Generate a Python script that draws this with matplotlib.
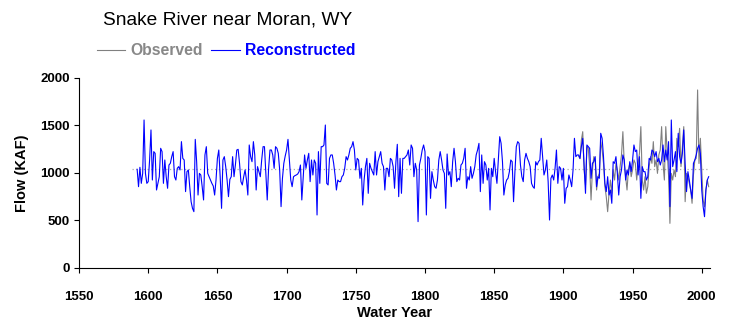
import numpy as np
import matplotlib
matplotlib.use("Agg")
import matplotlib.pyplot as plt

plt.rcParams["font.family"] = ["Liberation Sans", "DejaVu Sans"]

# Reconstructed annual flow (KAF), water years 1592-2005
recon_start = 1592
reconstructed = [
    1039, 856, 1060, 891, 996, 1558, 996, 891,
    909, 1137, 1453, 926, 1225, 1207, 821, 891, 961, 1260,
    1225, 891, 1137, 961, 839, 1084, 1102, 1172, 1225, 961,
    926, 1049, 1067, 1032, 1330, 1154, 1137, 804, 1014, 1032,
    856, 698, 628, 593, 1354, 1119, 768, 996, 979, 856,
    716, 1190, 1277, 996, 961, 926, 891, 863, 768, 926,
    1154, 1242, 961, 628, 1137, 1172, 1067, 926, 751, 933,
    961, 1172, 961, 1084, 1242, 1249, 1102, 909, 874, 961,
    1032, 926, 768, 1295, 1172, 1119, 1330, 1190, 821, 1067,
    1014, 961, 1137, 1277, 1277, 996, 716, 1049, 1242, 1242,
    1190, 1049, 1277, 1260, 1207, 1032, 646, 944, 1102, 1179,
    1242, 1354, 1137, 926, 856, 961, 972, 979, 989, 1014,
    1084, 716, 961, 1190, 1049, 1137, 1207, 909, 1137, 979,
    1137, 1102, 558, 1225, 891, 1277, 1277, 1295, 1505, 891,
    874, 1154, 1190, 1190, 1102, 979, 821, 926, 909, 909,
    961, 979, 1049, 1172, 1137, 1190, 1260, 1277, 1330, 1242,
    1032, 1154, 1137, 944, 1049, 663, 926, 1067, 1154, 786,
    1102, 1049, 1014, 979, 1225, 979, 1119, 1172, 1225, 1102,
    1067, 821, 1049, 1049, 961, 1154, 1137, 1067, 839, 1119,
    1302, 751, 1154, 786, 1154, 1154, 1172, 1190, 1242, 1084,
    1295, 1260, 961, 1102, 1032, 488, 1084, 1154, 1242, 1295,
    1225, 558, 1172, 1154, 733, 1014, 926, 856, 839, 926,
    1137, 1225, 1137, 1032, 996, 628, 1200, 979, 1014, 856,
    1119, 1260, 1119, 909, 944, 926, 1084, 1102, 1154, 1260,
    839, 961, 926, 1067, 944, 996, 1067, 1190, 1242, 1312,
    804, 1190, 891, 1119, 1084, 926, 1049, 611, 1049, 961,
    1154, 1014, 891, 1137, 1382, 1312, 1119, 768, 874, 926,
    944, 1014, 1137, 1119, 698, 1014, 1277, 1330, 1312, 1084,
    961, 909, 1137, 1207, 1154, 1119, 1067, 891, 856, 839,
    1119, 1084, 1119, 1137, 1365, 1172, 979, 1032, 1137, 909,
    505, 944, 979, 926, 1049, 1242, 891, 1067, 1049, 926,
    1049, 681, 839, 856, 979, 926, 856, 1032, 1365, 1172,
    1190, 1190, 1154, 1277, 1365, 1067, 786, 1295, 1277, 1260,
    944, 1102, 1119, 1172, 856, 961, 944, 1418, 1365, 1172,
    891, 804, 961, 768, 821, 681, 1119, 1102, 1172, 996,
    768, 961, 1032, 1190, 1137, 926, 1032, 979, 1119, 1014,
    1137, 1295, 1225, 1242, 979, 1172, 733, 1067, 1014, 1014,
    926, 961, 1154, 1137, 1242, 1225, 1172, 1225, 1119, 1154,
    1084, 1137, 1295, 1119, 1242, 1137, 1330, 646, 1558, 1067,
    1137, 1225, 1014, 1418, 1172, 1102, 1207, 1453, 1102, 804,
    1014, 926, 821, 733, 1102, 1137, 1190, 1260, 1295, 1207,
    821, 646, 540, 821, 926, 961,
]

# Observed (gauged) flow (KAF), water years 1911-2005
obs_start = 1911
observed = [
    1180, 1150, 1347, 1435, 1032, 874, 1277, 1260, 1067,
    716, 1032, 1172, 1137, 821, 961, 996, 1330, 1242, 1102,
    856, 751, 593, 786, 926, 786, 1032, 926, 1102, 1032,
    926, 1067, 1190, 1435, 1102, 961, 821, 1032, 1102, 961,
    1032, 1137, 1102, 926, 1102, 1207, 1488, 926, 821, 961,
    786, 856, 1067, 1172, 1102, 1330, 1067, 1137, 996, 1190,
    1242, 1488, 1102, 926, 1488, 1225, 979, 470, 996, 926,
    1032, 961, 1365, 1277, 1470, 1067, 1277, 1488, 698, 996,
    961, 891, 821, 681, 979, 1137, 1154, 1874, 1100, 1365,
    1032, 716, 646, 821, 926, 856,
]

mean_flow = 1040

years_recon = np.arange(recon_start, recon_start + len(reconstructed))
years_obs = np.arange(obs_start, obs_start + len(observed))

fig = plt.figure(figsize=(7.49, 3.33), dpi=100)
ax = fig.add_axes([0.1055, 0.1952, 0.8425, 0.5706])

ax.hlines(mean_flow, years_recon[0] - 4, years_recon[-1] + 1,
          colors="#aaaaaa", linestyles=(0, (1, 2)), linewidth=0.9)
ax.plot(years_obs, observed, color="#808080", lw=0.8, label="Observed")
ax.plot(years_recon, reconstructed, color="#0000ff", lw=0.8, label="Reconstructed")

ax.set_xlim(1550, 2006)
ax.set_ylim(0, 2000)
ax.set_xticks(range(1550, 2001, 50))
ax.set_yticks(range(0, 2001, 500))
ax.tick_params(direction="out", length=3.5, width=0.8, labelsize=9.5, pad=3)
ax.tick_params(axis="x", pad=13)
for lab in ax.get_xticklabels() + ax.get_yticklabels():
    lab.set_fontweight("bold")
ax.spines["top"].set_visible(False)
ax.spines["right"].set_visible(False)

ax.set_xlabel("Water Year", fontsize=10.5, fontweight="bold", labelpad=2)
ax.set_ylabel("Flow (KAF)", fontsize=10.5, fontweight="bold", labelpad=8)

fig.text(0.1375, 0.94, "Snake River near Moran, WY", fontsize=13.8, va="center")

fig.legend(loc="center left", bbox_to_anchor=(0.129, 0.847), ncol=2,
           frameon=False, handlelength=1.8, handletextpad=0.35,
           columnspacing=0.55, borderpad=0, borderaxespad=0,
           prop=dict(weight="bold", size=11.3),
           labelcolor=["#888888", "#0000ff"])

fig.savefig("out.png", dpi=100)
